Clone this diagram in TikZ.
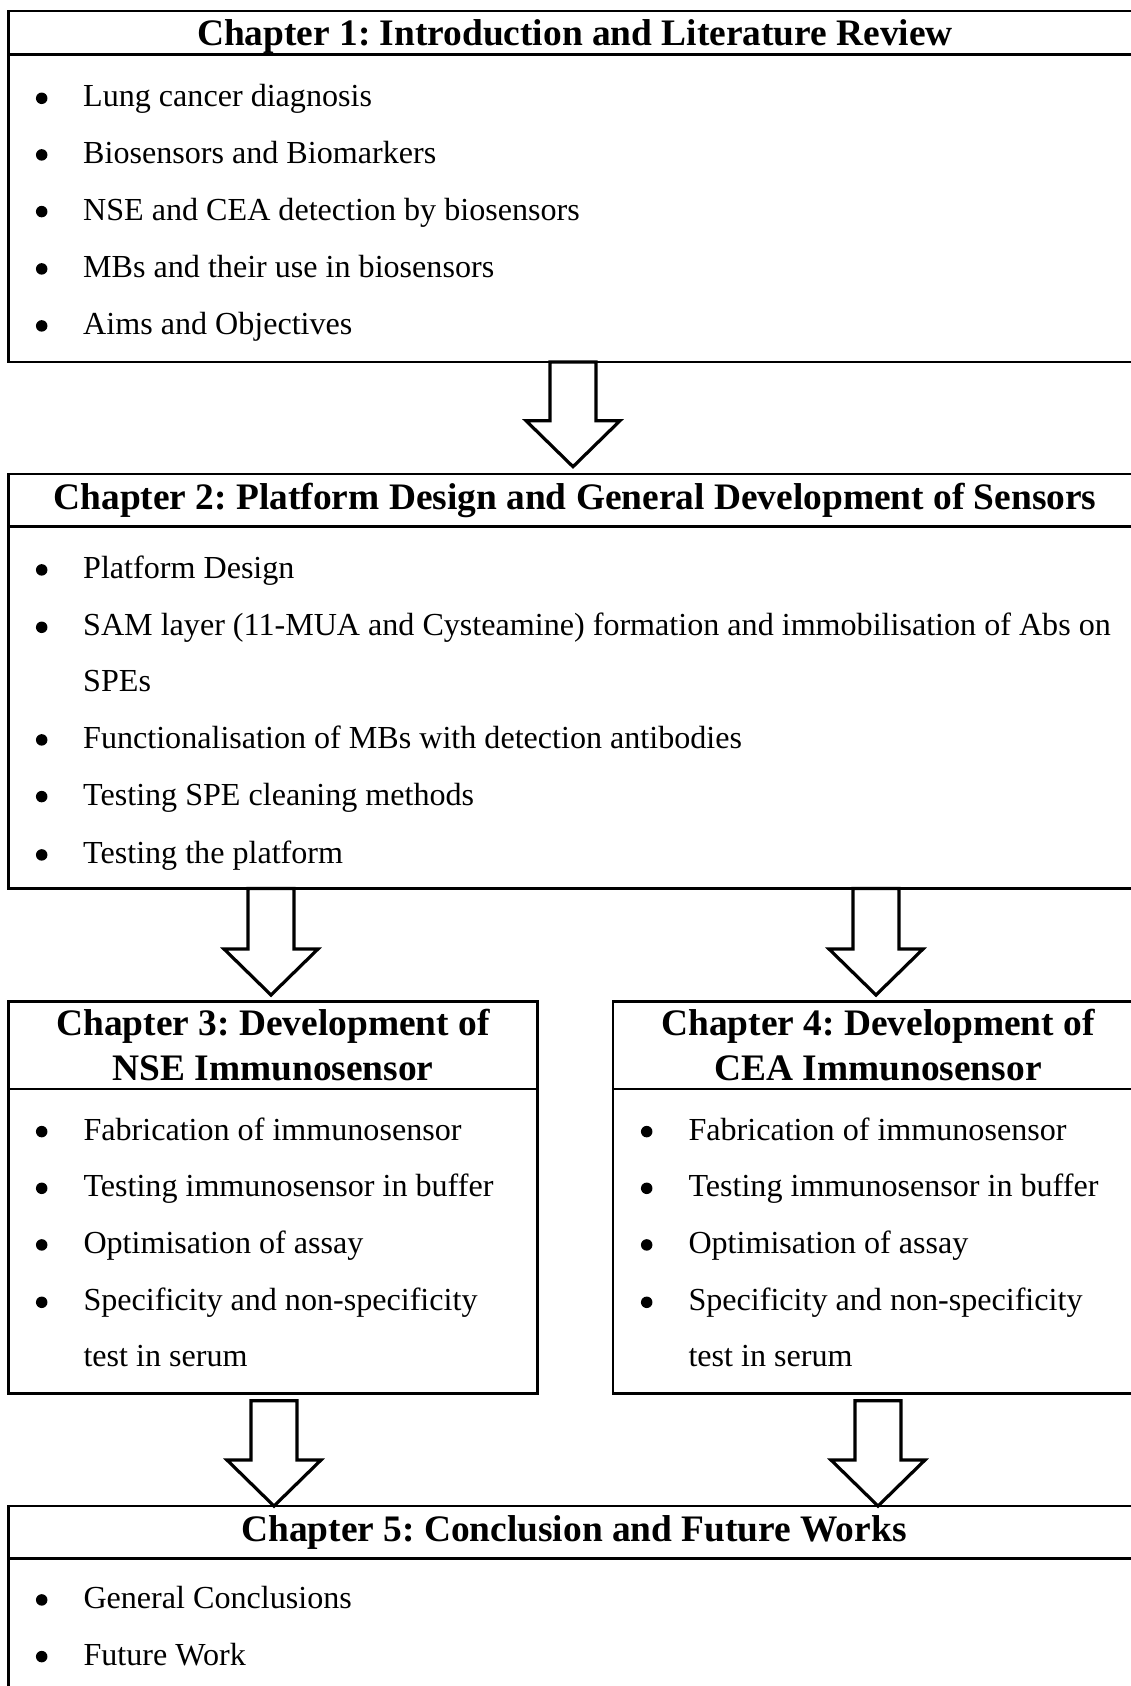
\documentclass[tikz,border=0pt]{standalone}
\usepackage{fontspec}
\setmainfont{Liberation Serif}
\usetikzlibrary{calc}
\frenchspacing

\tikzset{
  chapbox/.style={draw, line width=2.5pt, inner sep=0pt, outer sep=0pt, anchor=north west},
  sepline/.style={line width=2.5pt},
  chaptitle/.style={anchor=base, inner sep=0pt, font=\fontsize{37.4}{44}\selectfont\bfseries},
  item/.style={anchor=base west, inner sep=0pt, font=\fontsize{32.1}{38}\selectfont},
  dot/.style={circle, fill, inner sep=0pt, minimum size=11.5pt},
  hollowarrow/.style={draw, fill=white, line width=3.2pt, line join=miter},
}

% hollow block arrow: from (#1) down to the tip (#2)
\newcommand{\blockarrow}[2]{%
  \draw[hollowarrow] ($(#1)+(-23,0)$) -- ($(#2)+(-23,-46)$) -- ($(#2)+(-47,-46)$) -- (#2)
    -- ($(#2)+(47,-46)$) -- ($(#2)+(23,-46)$) -- ($(#1)+(23,0)$) -- cycle;}

\begin{document}
\begin{tikzpicture}[x=1pt, y=-1pt]
  \clip (0,0) rectangle (1131,1686);

  % boxes
  \node[chapbox, minimum width=1133.5pt, minimum height=351pt] (ch1) at (8.5,11) {};
  \node[chapbox, minimum width=1133.5pt, minimum height=414.5pt] (ch2) at (8.5,474) {};
  \node[chapbox, minimum width=529.1pt, minimum height=391.8pt] (ch3) at (8.4,1001.5) {};
  \node[chapbox, minimum width=530pt, minimum height=391.8pt] (ch4) at (613,1001.5) {};
  \node[chapbox, minimum width=1133.5pt, minimum height=200pt] (ch5) at (8.6,1506) {};

  \draw[sepline] (ch1.west |- 0,54.3) -- (ch1.east |- 0,54.3);
  \draw[sepline] (ch2.west |- 0,526.7) -- (ch2.east |- 0,526.7);
  \draw[sepline] (ch3.west |- 0,1089) -- (ch3.east |- 0,1089);
  \draw[sepline] (ch4.west |- 0,1089) -- (ch4.east |- 0,1089);
  \draw[sepline] (ch5.west |- 0,1558.3) -- (ch5.east |- 0,1558.3);

  % titles
  \node[chaptitle] (t1) at (575,46) {Chapter 1: Introduction and Literature Review};
  \node[chaptitle] (t2) at (575,509.3) {Chapter 2: Platform Design and General Development of Sensors};
  \node[chaptitle] (t3a) at (273,1035) {Chapter 3: Development of};
  \node[chaptitle] (t3b) at (273,1080) {NSE Immunosensor};
  \node[chaptitle] (t4a) at (878,1035) {Chapter 4: Development of};
  \node[chaptitle] (t4b) at (878,1080) {CEA Immunosensor};
  \node[chaptitle] (t5) at (574,1541.7) {Chapter 5: Conclusion and Future Works};

  % bullet lists
  \foreach \y/\t [count=\i] in {106.7/Lung cancer diagnosis, 163.3/Biosensors and Biomarkers,
      220/NSE and CEA detection by biosensors, 277.3/MBs and their use in biosensors,
      334.3/Aims and Objectives} {
    \node[dot] (b1\i) at (41.7,\y-8.4) {};
    \node[item] (i1\i) at (83,\y) {\t};
  }
  \foreach \y/\t [count=\i] in {578.3/Platform Design,
      635.7/SAM layer (11-MUA and Cysteamine) formation and immobilisation of Abs on,
      748.3/Functionalisation of MBs with detection antibodies,
      805/Testing SPE cleaning methods, 863.3/Testing the platform} {
    \node[dot] (b2\i) at (41.7,\y-8.4) {};
    \node[item] (i2\i) at (83,\y) {\t};
  }
  \node[item] (i2x) at (83,691) {SPEs};
  \foreach \y/\t [count=\i] in {1140/Fabrication of immunosensor, 1196.7/Testing immunosensor in buffer,
      1253.3/Optimisation of assay, 1310.7/Specificity and non-specificity} {
    \node[dot] (b3\i) at (41.7,\y-8.4) {};
    \node[item] (i3\i) at (83.3,\y) {\t};
    \node[dot] (b4\i) at (646.7,\y-8.4) {};
    \node[item] (i4\i) at (688.3,\y) {\t};
  }
  \node[item] (i3x) at (83.3,1366.7) {test in serum};
  \node[item] (i4x) at (688.3,1366.7) {test in serum};
  \foreach \y/\t [count=\i] in {1608.3/General Conclusions, 1665/Future Work} {
    \node[dot] (b5\i) at (41.7,\y-8.4) {};
    \node[item] (i5\i) at (83.3,\y) {\t};
  }

  % arrows
  \coordinate (a1s) at (573,0 |- ch1.south);
  \coordinate (a1e) at (573,466.7);
  \coordinate (a2s) at (271,0 |- ch2.south);
  \coordinate (a2e) at (271,995);
  \coordinate (a3s) at (876,0 |- ch2.south);
  \coordinate (a3e) at (876,995);
  \coordinate (a4s) at (274,1400.7);
  \coordinate (a4e) at (274,0 |- ch5.north);
  \coordinate (a5s) at (878,1400.7);
  \coordinate (a5e) at (878,0 |- ch5.north);
  \blockarrow{a1s}{a1e}
  \blockarrow{a2s}{a2e}
  \blockarrow{a3s}{a3e}
  \blockarrow{a4s}{a4e}
  \blockarrow{a5s}{a5e}
\end{tikzpicture}
\end{document}
